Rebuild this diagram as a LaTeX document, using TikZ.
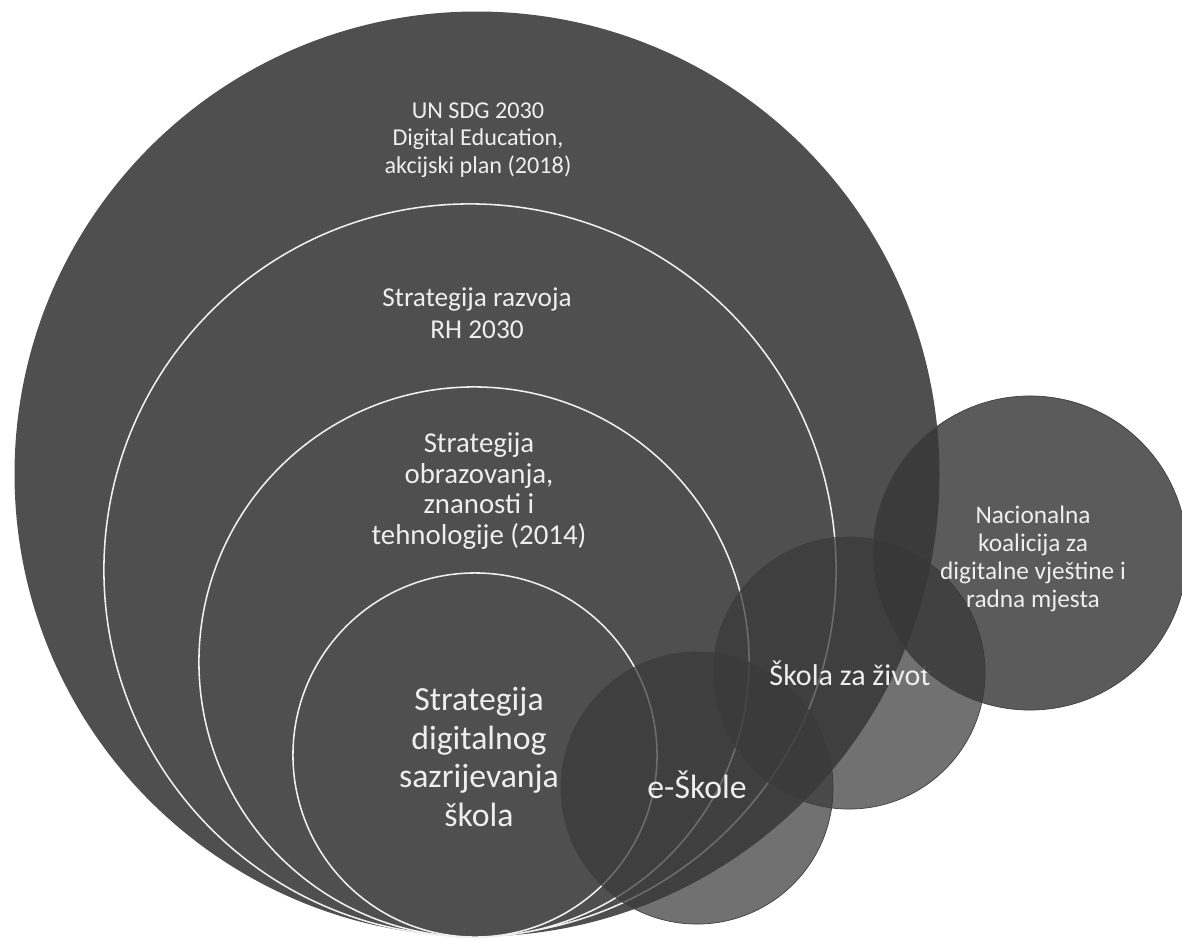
\documentclass[tikz,border=0pt]{standalone}
\usepackage{fontspec}
\setmainfont{Carlito}
\usetikzlibrary{positioning}
\definecolor{ringgray}{RGB}{79,79,79}
\definecolor{blobgray}{RGB}{58,58,58}
\definecolor{textgray}{RGB}{238,238,238}

\begin{document}
\begin{tikzpicture}[x=0.025cm, y=-0.025cm]
	\useasboundingbox (0,0) rectangle (1182,940);

	% nested strategy rings
	\begin{scope}[every node/.style={circle, fill=ringgray, draw=white!88!gray, line width=1.1pt, inner sep=0pt}]
		\node[minimum size=23.08cm, draw=ringgray] (sdg) at (477,474) {};
		\node[minimum size=18.3cm] (rh) at (470,570) {};
		\node[minimum size=13.75cm] (ozt) at (474,662) {};
		\node[minimum size=9.1cm] (dzs) at (475,755) {};
	\end{scope}

	\begin{scope}[every node/.style={text=textgray, align=center, inner sep=0pt}]
		\node[font=\fontsize{17.2}{19.4}\selectfont] (sdgtext) at (478,140) {UN SDG 2030\\Digital Education,\\akcijski plan (2018)};
		\node[font=\fontsize{19.4}{22.5}\selectfont] (rhtext) at (477,313) {Strategija razvoja\\RH 2030};
		\node[font=\fontsize{20.5}{21.8}\selectfont] (ozttext) at (479,491) {Strategija\\obrazovanja,\\znanosti i\\tehnologije (2014)};
		\node[font=\fontsize{24}{27.3}\selectfont] (dzstext) at (479,757) {Strategija\\digitalnog\\sazrijevanja\\škola};
	\end{scope}

	% overlapping programmes
	\begin{scope}[every node/.style={circle, fill=blobgray, fill opacity=0.72, draw=black!75, line width=0.5pt, inner sep=0pt}]
		\node[minimum size=6.8cm] (esk) at (697,788) {};
		\node[text=textgray, fill=none, draw=none, text opacity=1, font=\fontsize{24}{28}\selectfont] (esktext) at (697,785) {e-Škole};
		\node[minimum size=6.8cm] (szz) at (849,673) {};
		\node[text=textgray, fill=none, draw=none, text opacity=1, font=\fontsize{21.4}{25}\selectfont] (szztext) at (850,673) {Škola za život};
		\node[minimum size=7.85cm, fill=blobgray!95!black, fill opacity=0.82] (nk) at (1030,553) {};
	\end{scope}

	\node[text=textgray, align=center, inner sep=0pt, font=\fontsize{18}{20}\selectfont] (nktext) at (1033,559) {Nacionalna\\koalicija za\\digitalne vještine i\\radna mjesta};
\end{tikzpicture}
\end{document}
